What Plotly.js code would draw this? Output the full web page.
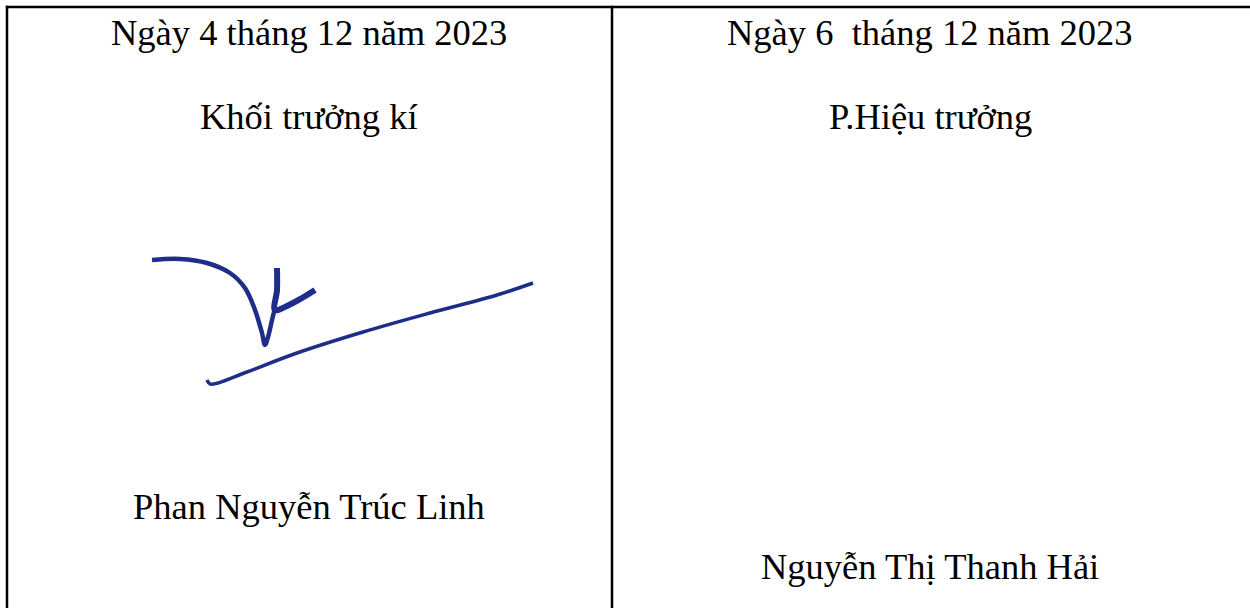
<!DOCTYPE html>
<html>
<head>
<meta charset="utf-8">
<script src="https://cdn.plot.ly/plotly-3.0.1.min.js"></script>
<style>
  html, body { margin: 0; padding: 0; background: #ffffff; }
  #chart { width: 1250px; height: 608px; }
</style>
</head>
<body>
<div id="chart"></div>
<script>
// ---- Content ----
const dateLines = ["Ngày 4 tháng 12 năm 2023", "Ngày 6  tháng 12 năm 2023"];
const roleLines = ["Khối trưởng kí", "P.Hiệu trưởng"];
const signerNames = ["Phan Nguyễn Trúc Linh", "Nguyễn Thị Thanh Hải"];

// ---- Signature strokes ----
const sigStrokeAx = [152, 180, 207, 230, 245, 255, 262, 265, 268, 272, 275];
const sigStrokeAy = [260, 259, 263, 273, 288, 310, 333, 345, 337, 320, 308];
const sigStrokeBx = [277, 277, 275, 287, 302, 315];
const sigStrokeBy = [268, 290, 310, 306, 298, 290];
const sigStrokeCx = [207, 210, 218, 247, 297, 363, 430, 497, 533];
const sigStrokeCy = [380, 384, 383, 372, 353, 332, 313, 295, 283];

const W = 1250, H = 608;
const inkColor = "#1f2d8a";
const fontFam = "Liberation Serif, Times New Roman, serif";
const colCenters = [309, 930];

const traces = [
  {x: sigStrokeAx, y: sigStrokeAy, mode: "lines", line: {color: inkColor, width: 4.5, shape: "spline"}, hoverinfo: "skip", showlegend: false},
  {x: sigStrokeBx, y: sigStrokeBy, mode: "lines", line: {color: inkColor, width: 6, shape: "spline"}, hoverinfo: "skip", showlegend: false},
  {x: sigStrokeCx, y: sigStrokeCy, mode: "lines", line: {color: inkColor, width: 3.5, shape: "spline"}, hoverinfo: "skip", showlegend: false}
];

const textFont = {family: fontFam, size: 36.5, color: "#000000"};
const annotations = [];
const dateY = [32, 32], roleY = [116, 116], nameY = [506, 566];
for (let i = 0; i < 2; i++) {
  annotations.push({x: colCenters[i], y: dateY[i], xref: "x", yref: "y", text: dateLines[i], showarrow: false, font: textFont, xanchor: "center", yanchor: "middle"});
  annotations.push({x: colCenters[i], y: roleY[i], xref: "x", yref: "y", text: roleLines[i], showarrow: false, font: textFont, xanchor: "center", yanchor: "middle"});
  annotations.push({x: colCenters[i], y: nameY[i], xref: "x", yref: "y", text: signerNames[i], showarrow: false, font: textFont, xanchor: "center", yanchor: "middle"});
}

const border = {color: "#000000", width: 2.5};
const shapes = [
  {type: "line", xref: "x", yref: "y", x0: 5.8, x1: W, y0: 7, y1: 7, line: border},
  {type: "line", xref: "x", yref: "y", x0: 7, x1: 7, y0: 5.8, y1: H, line: border},
  {type: "line", xref: "x", yref: "y", x0: 612, x1: 612, y0: 5.8, y1: H, line: border}
];

const layout = {
  width: W, height: H,
  margin: {l: 0, r: 0, t: 0, b: 0},
  paper_bgcolor: "#ffffff", plot_bgcolor: "#ffffff",
  xaxis: {range: [0, W], visible: false, fixedrange: true},
  yaxis: {range: [H, 0], visible: false, fixedrange: true},
  showlegend: false,
  annotations: annotations,
  shapes: shapes
};

Plotly.newPlot("chart", traces, layout, {displayModeBar: false, staticPlot: true});
</script>
</body>
</html>
